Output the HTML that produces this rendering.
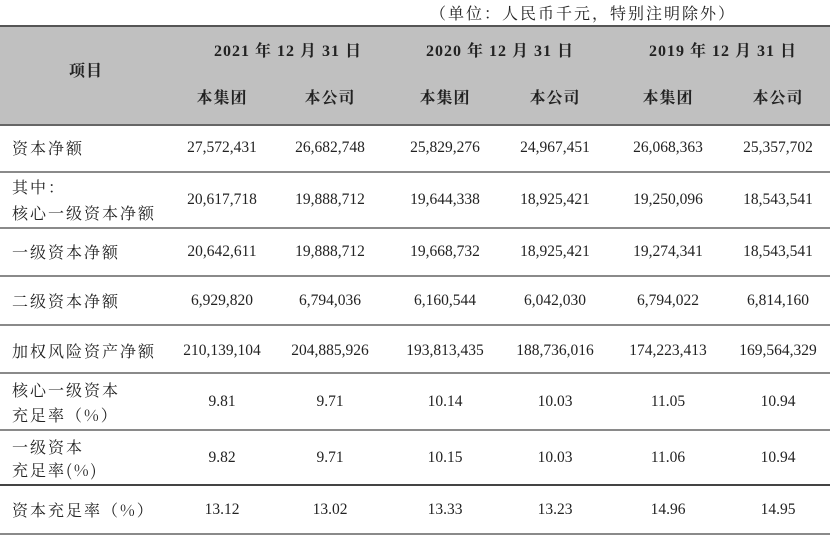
<!DOCTYPE html>
<html><head><meta charset="utf-8"><style>
body{margin:0;width:830px;height:536px;background:#fff;position:relative;overflow:hidden;font-family:"Liberation Serif","Noto Serif CJK SC",serif;color:#222}
.t{position:absolute;height:20px;line-height:20px;white-space:nowrap;font-size:15.5px}
.c{transform:translateX(-50%)}
.l{font-family:"Noto Serif CJK SC","Noto Sans CJK SC",serif;font-size:16px;letter-spacing:2px;left:12px}
.h{font-weight:bold;font-family:"Liberation Serif","Noto Serif CJK SC",serif;font-size:16px;letter-spacing:1px}
.ln{position:absolute;left:0;width:830px;height:2px;background:#8a8a8a}
</style></head><body>
<div class="t" style="top:3px;left:430px;font-family:'Noto Serif CJK SC',serif;font-size:16px;letter-spacing:2px">（单位：人民币千元，特别注明除外）</div>
<div style="position:absolute;left:0;top:25px;width:830px;height:97px;background:#c0c0c0;border-top:2px solid #555;border-bottom:2px solid #666"></div>
<div class="t h c" style="top:62px;left:86px">项目</div>
<div class="t h c" style="top:42px;left:288px">2021 年 12 月 31 日</div>
<div class="t h c" style="top:42px;left:500px">2020 年 12 月 31 日</div>
<div class="t h c" style="top:42px;left:723px">2019 年 12 月 31 日</div>
<div class="t h c" style="top:89px;left:222px">本集团</div>
<div class="t h c" style="top:89px;left:330px">本公司</div>
<div class="t h c" style="top:89px;left:445px">本集团</div>
<div class="t h c" style="top:89px;left:555px">本公司</div>
<div class="t h c" style="top:89px;left:668px">本集团</div>
<div class="t h c" style="top:89px;left:778px">本公司</div>

<div class="ln" style="top:171px"></div>
<div class="ln" style="top:227px"></div>
<div class="ln" style="top:275px"></div>
<div class="ln" style="top:324px"></div>
<div class="ln" style="top:372px"></div>
<div class="ln" style="top:429px"></div>
<div class="ln" style="top:484px;background:#444"></div>
<div class="ln" style="top:533px"></div>

<div class="t l" style="top:138px">资本净额</div>
<div class="t l" style="top:177px">其中：</div>
<div class="t l" style="top:203px">核心一级资本净额</div>
<div class="t l" style="top:242px">一级资本净额</div>
<div class="t l" style="top:291px">二级资本净额</div>
<div class="t l" style="top:341px">加权风险资产净额</div>
<div class="t l" style="top:380px">核心一级资本</div>
<div class="t l" style="top:405px">充足率（%）</div>
<div class="t l" style="top:437px">一级资本</div>
<div class="t l" style="top:460px">充足率(%)</div>
<div class="t l" style="top:500px">资本充足率（%）</div>

<div class="t c" style="top:138px;left:222px">27,572,431</div><div class="t c" style="top:138px;left:330px">26,682,748</div><div class="t c" style="top:138px;left:445px">25,829,276</div><div class="t c" style="top:138px;left:555px">24,967,451</div><div class="t c" style="top:138px;left:668px">26,068,363</div><div class="t c" style="top:138px;left:778px">25,357,702</div>
<div class="t c" style="top:190px;left:222px">20,617,718</div><div class="t c" style="top:190px;left:330px">19,888,712</div><div class="t c" style="top:190px;left:445px">19,644,338</div><div class="t c" style="top:190px;left:555px">18,925,421</div><div class="t c" style="top:190px;left:668px">19,250,096</div><div class="t c" style="top:190px;left:778px">18,543,541</div>
<div class="t c" style="top:242px;left:222px">20,642,611</div><div class="t c" style="top:242px;left:330px">19,888,712</div><div class="t c" style="top:242px;left:445px">19,668,732</div><div class="t c" style="top:242px;left:555px">18,925,421</div><div class="t c" style="top:242px;left:668px">19,274,341</div><div class="t c" style="top:242px;left:778px">18,543,541</div>
<div class="t c" style="top:291px;left:222px">6,929,820</div><div class="t c" style="top:291px;left:330px">6,794,036</div><div class="t c" style="top:291px;left:445px">6,160,544</div><div class="t c" style="top:291px;left:555px">6,042,030</div><div class="t c" style="top:291px;left:668px">6,794,022</div><div class="t c" style="top:291px;left:778px">6,814,160</div>
<div class="t c" style="top:341px;left:222px">210,139,104</div><div class="t c" style="top:341px;left:330px">204,885,926</div><div class="t c" style="top:341px;left:445px">193,813,435</div><div class="t c" style="top:341px;left:555px">188,736,016</div><div class="t c" style="top:341px;left:668px">174,223,413</div><div class="t c" style="top:341px;left:778px">169,564,329</div>
<div class="t c" style="top:392px;left:222px">9.81</div><div class="t c" style="top:392px;left:330px">9.71</div><div class="t c" style="top:392px;left:445px">10.14</div><div class="t c" style="top:392px;left:555px">10.03</div><div class="t c" style="top:392px;left:668px">11.05</div><div class="t c" style="top:392px;left:778px">10.94</div>
<div class="t c" style="top:448px;left:222px">9.82</div><div class="t c" style="top:448px;left:330px">9.71</div><div class="t c" style="top:448px;left:445px">10.15</div><div class="t c" style="top:448px;left:555px">10.03</div><div class="t c" style="top:448px;left:668px">11.06</div><div class="t c" style="top:448px;left:778px">10.94</div>
<div class="t c" style="top:500px;left:222px">13.12</div><div class="t c" style="top:500px;left:330px">13.02</div><div class="t c" style="top:500px;left:445px">13.33</div><div class="t c" style="top:500px;left:555px">13.23</div><div class="t c" style="top:500px;left:668px">14.96</div><div class="t c" style="top:500px;left:778px">14.95</div>
</body></html>
